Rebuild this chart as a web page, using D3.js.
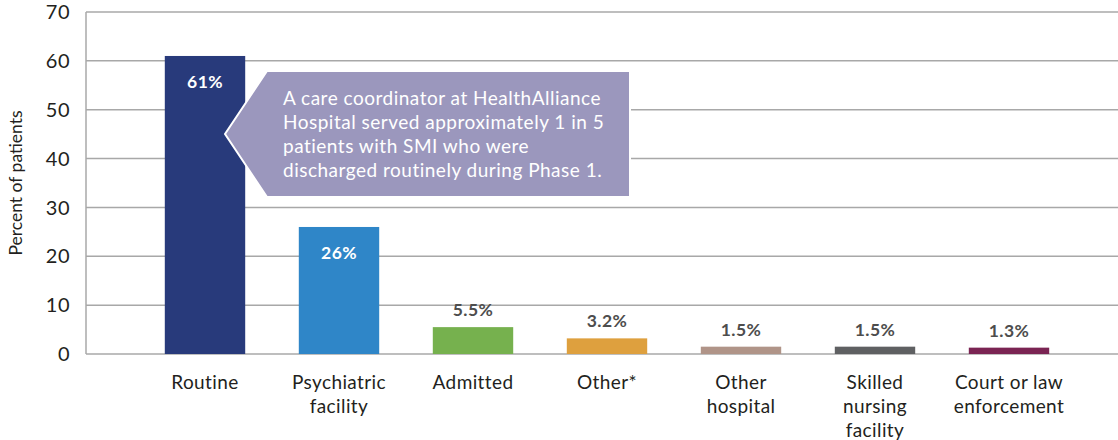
<!DOCTYPE html>
<html>
<head>
<meta charset="utf-8">
<script src="https://cdn.jsdelivr.net/npm/d3@7"></script>
<style>
  body { margin: 0; background: #fff; }
  text { font-family: Lato, "Open Sans", sans-serif; }
</style>
</head>
<body>
<svg width="1118" height="440"></svg>
<script>
// discharge destinations
var categories = ["Routine", "Psychiatric facility", "Admitted", "Other*", "Other hospital", "Skilled nursing facility", "Court or law enforcement"];
var catLines = [["Routine"], ["Psychiatric", "facility"], ["Admitted"], ["Other*"], ["Other", "hospital"], ["Skilled", "nursing", "facility"], ["Court or law", "enforcement"]];
var values = [61, 26, 5.5, 3.2, 1.5, 1.5, 1.3];
var valueLabels = ["61%", "26%", "5.5%", "3.2%", "1.5%", "1.5%", "1.3%"];
var colors = ["#283a7b", "#2f86c8", "#76b14e", "#dea03e", "#b09488", "#5f6062", "#7a2453"];
var yTicks = [0, 10, 20, 30, 40, 50, 60, 70];
var note = ["A care coordinator at HealthAlliance", "Hospital served approximately 1 in 5", "patients with SMI who were", "discharged routinely during Phase 1."];

var svg = d3.select("svg"),
    width = +svg.attr("width"),
    height = +svg.attr("height");

var x = d3.scaleBand()
    .domain(categories)
    .range([138, 1076])
    .paddingInner(0.4)
    .paddingOuter(0.2);

var y = d3.scaleLinear()
    .domain([0, 70])
    .range([354, 12]);

// gridlines
svg.append("g")
  .selectAll("line")
  .data(yTicks)
  .enter().append("line")
    .attr("x1", 86)
    .attr("x2", width)
    .attr("y1", function(d) { return y(d); })
    .attr("y2", function(d) { return y(d); })
    .attr("stroke", "#a8a8a8")
    .attr("stroke-width", 1.5);

// y axis line
svg.append("line")
    .attr("x1", 86).attr("x2", 86)
    .attr("y1", y(70)).attr("y2", y(0))
    .attr("stroke", "#a8a8a8")
    .attr("stroke-width", 1.5);

svg.append("g")
  .selectAll("text")
  .data(yTicks)
  .enter().append("text")
    .attr("x", 70)
    .attr("y", function(d) { return y(d); })
    .attr("dy", "0.36em")
    .attr("text-anchor", "end")
    .attr("font-size", 20)
    .attr("letter-spacing", 0.5)
    .attr("fill", "#231f20")
    .text(function(d) { return d; });

svg.append("text")
    .attr("transform", "translate(22," + y(35) + ") rotate(-90)")
    .attr("text-anchor", "middle")
    .attr("font-size", 17.5)
    .attr("fill", "#231f20")
    .text("Percent of patients");

// bars
svg.append("g")
  .selectAll("rect")
  .data(values)
  .enter().append("rect")
    .attr("x", function(d, i) { return x(categories[i]); })
    .attr("width", x.bandwidth())
    .attr("y", function(d) { return y(d); })
    .attr("height", function(d) { return y(0) - y(d); })
    .attr("fill", function(d, i) { return colors[i]; });

// value labels
svg.append("g")
  .selectAll("text")
  .data(values)
  .enter().append("text")
    .attr("x", function(d, i) { return x(categories[i]) + x.bandwidth() / 2; })
    .attr("y", function(d) { return d > 20 ? y(d) + 32 : y(d) - 11; })
    .attr("text-anchor", "middle")
    .attr("font-size", 17.5)
    .attr("letter-spacing", 0.4)
    .attr("font-weight", "bold")
    .attr("fill", function(d) { return d > 20 ? "#fff" : "#4d4d4d"; })
    .text(function(d, i) { return valueLabels[i]; });

// category labels
var cat = svg.append("g")
  .selectAll("text")
  .data(catLines)
  .enter().append("text")
    .attr("text-anchor", "middle")
    .attr("font-size", 19)
    .attr("letter-spacing", 0.4)
    .attr("fill", "#231f20")
    .attr("transform", function(d, i) { return "translate(" + (x(categories[i]) + x.bandwidth() / 2) + ",389)"; });

cat.selectAll("tspan")
  .data(function(d) { return d; })
  .enter().append("tspan")
    .attr("x", 0)
    .attr("y", function(d, i) { return i * 24; })
    .text(function(d) { return d; });

// callout
var cx0 = 267, cx1 = 630, ctop = 71, cbot = 197, tip = 225;
svg.append("path")
    .attr("d", "M" + tip + "," + (ctop + cbot) / 2 + "L" + cx0 + "," + ctop + "L" + cx1 + "," + ctop +
      "L" + cx1 + "," + cbot + "L" + cx0 + "," + cbot + "Z")
    .attr("fill", "#9b97bd")
    .attr("stroke", "#fff")
    .attr("stroke-width", 2);

svg.append("g")
  .selectAll("text")
  .data(note)
  .enter().append("text")
    .attr("x", 283)
    .attr("y", function(d, i) { return 105 + i * 24; })
    .attr("font-size", 19)
    .attr("letter-spacing", 0.5)
    .attr("fill", "#fff")
    .text(function(d) { return d; });
</script>
</body>
</html>
